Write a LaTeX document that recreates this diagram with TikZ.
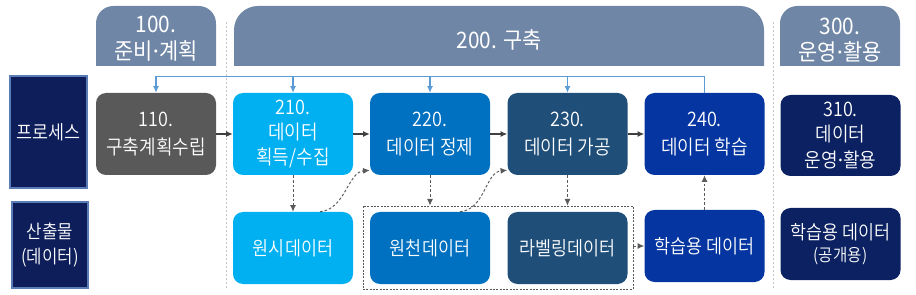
\documentclass[tikz,border=0pt]{standalone}
\usepackage{fontspec}
\setmainfont{Noto Sans CJK KR DemiLight}[FakeStretch=0.9]
\newfontfamily\hdrfont{Noto Sans CJK KR}[FakeStretch=0.92]
\newfontfamily\dotfont{Noto Sans}
\newcommand{\mdot}{{\dotfont ·}}
\usetikzlibrary{arrows.meta,positioning,calc}

\definecolor{hdrgray}{HTML}{6F86A6}
\definecolor{navy}{HTML}{0E1E5B}
\definecolor{sideedge}{HTML}{5B7DB5}
\definecolor{c110}{HTML}{595959}
\definecolor{c210}{HTML}{00B0F0}
\definecolor{c220}{HTML}{0070C0}
\definecolor{c230}{HTML}{1F4E79}
\definecolor{c240}{HTML}{0535A0}
\definecolor{c310}{HTML}{0B2161}
\definecolor{feedblue}{HTML}{5B9BD5}
\definecolor{arrowgray}{HTML}{404040}
\definecolor{dashgray}{HTML}{595959}

\tikzset{
  hdrtxt/.style={text=white,align=center,font=\hdrfont\fontsize{17}{20}\selectfont},
  sidebox/.style={draw=sideedge,fill=navy,text=white,line width=0.8pt,align=center,
    inner sep=0pt,font=\fontsize{14.5}{19}\selectfont},
  procbox/.style={rounded corners=7.5pt,text=white,align=center,inner sep=0pt,
    minimum width=90pt,minimum height=61.5pt,font=\fontsize{15}{21}\selectfont},
  threeline/.style={font=\fontsize{15}{19}\selectfont},
  outbox/.style={procbox,minimum height=54pt,font=\fontsize{14.5}{16.5}\selectfont},
  flow/.style={-{Latex[length=5pt,width=4.5pt]},draw=arrowgray,line width=0.8pt},
  feed/.style={-{Latex[length=5pt,width=4.5pt]},draw=feedblue,line width=0.8pt},
  dashflow/.style={-{Latex[length=5pt,width=4.5pt]},draw=dashgray,line width=0.7pt,
    dash pattern=on 2pt off 1.5pt},
  sepline/.style={draw=gray!45,line width=0.5pt,dash pattern=on 1.5pt off 1.5pt}
}

\begin{document}
\begin{tikzpicture}[x=0.75pt,y=-0.75pt]
  \useasboundingbox (0,0) rectangle (916,295);

  % Stage tabs
  \fill[hdrgray] (96,66) [rounded corners=13pt] -- (96,6) -- (216,6) [sharp corners] -- (216,66) -- cycle;
  \fill[hdrgray] (234,66) [rounded corners=18pt] -- (234,6) -- (764,6) [sharp corners] -- (764,66) -- cycle;
  \fill[hdrgray] (780,66) [rounded corners=13pt] -- (780,6) -- (900,6) [sharp corners] -- (900,66) -- cycle;
  \node[hdrtxt] (h100) at (156,39) {100.\\준비\mdot 계획};
  \node[hdrtxt] (h200) at (499,40) {200. 구축};
  \node[hdrtxt] (h300) at (840,40) {300.\\운영\mdot 활용};

  % Stage separators
  \draw[sepline] (226,22) -- (226,290);
  \draw[sepline] (773,22) -- (773,290);

  % Row labels
  \node[sidebox,minimum width=57.75pt,minimum height=84pt] (rproc) at (48.5,132) {프로세스};
  \node[sidebox,minimum width=57pt,minimum height=64.5pt,font=\fontsize{14}{19}\selectfont] (rout) at (50,245) {산출물\\(데이터)};

  % Process boxes
  \node[procbox,fill=c110] (p110) at (156,134) {110.\\구축계획수립};
  \node[procbox,threeline,fill=c210] (p210) at (293,134) {210.\\데이터\\획득/수집};
  \node[procbox,fill=c220] (p220) at (430,134) {220.\\데이터 정제};
  \node[procbox,fill=c230] (p230) at (567.5,134) {230.\\데이터 가공};
  \node[procbox,fill=c240] (p240) at (704.5,134) {240.\\데이터 학습};
  \node[procbox,threeline,fill=c310,minimum height=60.75pt] (p310) at (840.5,135.5) {310.\\데이터\\운영\mdot 활용};

  % Output boxes
  \node[outbox,fill=c210] (o210) at (293,248) {원시데이터};
  \node[outbox,fill=c220] (o220) at (430,248) {원천데이터};
  \node[outbox,fill=c230] (o230) at (567.5,248) {라벨링데이터};
  \node[outbox,fill=c240] (o240) at (704.5,246) {학습용 데이터};
  \node[outbox,fill=c310] (o310) at (840.5,244) {학습용 데이터\\{\fontsize{13}{16.5}\selectfont (공개용)}};
  \node[draw=dashgray,line width=0.6pt,dash pattern=on 1.5pt off 1pt,
    minimum width=202.5pt,minimum height=62.25pt,inner sep=0pt] (grp) at (498,247.5) {};

  % Feedback line
  \draw[feed] (p240.north) |- ($(p110.north)+(0,-16)$) -- (p110.north);
  \foreach \b in {p210,p220,p230}
    \draw[feed] ($(\b.north)+(0,-16)$) -- (\b.north);

  % Process flow
  \draw[flow] (p110) -- (p210);
  \draw[flow] (p210) -- (p220);
  \draw[flow] (p220) -- (p230);
  \draw[flow] (p230) -- (p240);

  % Outputs
  \draw[dashflow] (p210.south) -- (o210.north);
  \draw[dashflow] (p220.south) -- (p220.south |- grp.north);
  \draw[dashflow] (p230.south) -- (p230.south |- grp.north);
  \draw[dashflow] ($(o210.north)+(27,0)$) .. controls +(25,-2) and +(-22,2) .. ($(p220.south west)+(0,-5)$);
  \draw[dashflow] ($(o220.north)+(30,0)$) .. controls +(25,-2) and +(-22,2) .. ($(p230.south west)+(0,-5)$);
  \draw[dashflow] (grp.east |- o240.west) -- (o240.west);
  \draw[dashflow] (o240.north) -- (p240.south);
\end{tikzpicture}
\end{document}
